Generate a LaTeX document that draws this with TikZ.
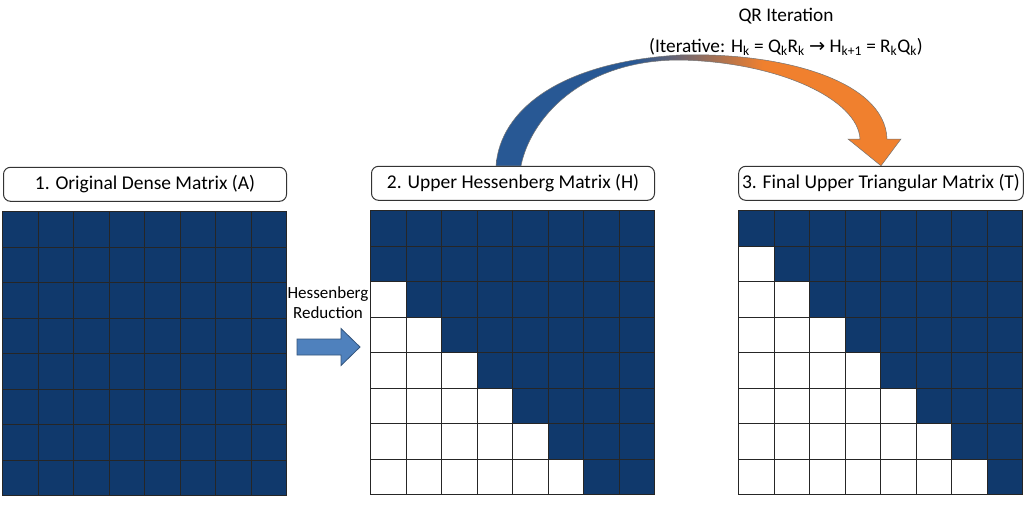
\documentclass[tikz,border=0pt]{standalone}
\usepackage{fontspec}
\setmainfont{Carlito}
\newfontfamily\arrowfont{DejaVu Sans}
\usetikzlibrary{positioning,calc}
\definecolor{matnavy}{RGB}{16,57,108}
\definecolor{qrblue}{RGB}{40,88,148}
\definecolor{qrorange}{RGB}{240,128,46}
\definecolor{redblue}{RGB}{79,129,189}
\pgfdeclarehorizontalshading{qrshade}{100bp}{color(0bp)=(qrblue); color(42bp)=(qrblue); color(58bp)=(qrorange); color(100bp)=(qrorange)}

\newcommand{\cellsize}{35.5}

\begin{document}
\begin{tikzpicture}[x=1pt, y=-1pt,
				matframe/.style={rectangle, minimum size=284pt, inner sep=0pt},
				title/.style={rectangle, rounded corners=7pt, draw=black!80, line width=1pt, fill=white, minimum width=283pt, minimum height=34pt, font=\fontsize{19.5}{22}\selectfont},
				cell/.style={draw=black!85, line width=1.1pt},
				hessarrow/.style={draw=redblue!65!black, fill=redblue, line width=0.8pt, line join=miter},
				qrarrow/.style={shading=qrshade, draw=black!55, line width=0.5pt},
				steplabel/.style={align=center, font=\fontsize{17}{20}\selectfont}
				]
				\useasboundingbox[fill=white] (0,0) rectangle (1024,509);
				
				% matrices
				\node[matframe] (matA) at (145,354) {};
				\node[matframe] (matH) at (513,353) {};
				\node[matframe] (matT) at (881,353) {};
				
				\foreach \m/\sub in {matA/8, matH/1, matT/0}
				\foreach \i in {0,...,7}
				\foreach \j in {0,...,7}{
					\ifnum\numexpr\j+\sub\relax<\i \def\cfill{white}\else\def\cfill{matnavy}\fi
					\draw[cell, fill=\cfill] ($(\m.north west)+(\j*\cellsize,\i*\cellsize)$) rectangle ++(\cellsize,\cellsize);
				}
				
				% titles
				\node[title, above=10pt of matA] (titleA) {1. Original Dense Matrix (A)};
				\node[title, above=10pt of matH] (titleH) {2. Upper Hessenberg Matrix (H)};
				\node[title, above=10pt of matT] (titleT) {3. Final Upper Triangular Matrix (T)};
				
				% Hessenberg reduction
				\coordinate (hred) at (328,347);
				\draw[hessarrow] ($(hred)+(-31,-8)$) -- ++(44,0) -- ++(0,-10.5) -- ($(hred)+(32,0)$)
					-- ($(hred)+(13,18.5)$) -- ++(0,-10.5) -- ++(-44,0) -- cycle;
				\node[steplabel, above=25pt of hred] (hredlabel) {Hessenberg\\Reduction};
				
				% QR iteration
				\coordinate (qrA) at ($(titleH.north west)+(125,0)$);
				\coordinate (qrB) at ($(qrA)+(25,0)$);
				\coordinate (qrtip) at (titleT.north);
				\path[qrarrow] (qrA) .. controls (500,110) and (560,62) .. (680,55)
					.. controls (780,52) and (885,80) .. (887,139) -- (901,139) -- (qrtip)
					-- (848,139) -- (860,139) .. controls (858,100) and (780,62) .. (680,60)
					.. controls (580,60) and (530,120) .. (qrB) -- cycle;
				\node[align=center, font=\fontsize{19.3}{31}\selectfont] (qrlabel) at (786,32) {QR Iteration\\(Iterative: H\textsubscript{k} = Q\textsubscript{k}R\textsubscript{k} {\arrowfont →} H\textsubscript{k+1} = R\textsubscript{k}Q\textsubscript{k})};
			\end{tikzpicture}
\end{document}
